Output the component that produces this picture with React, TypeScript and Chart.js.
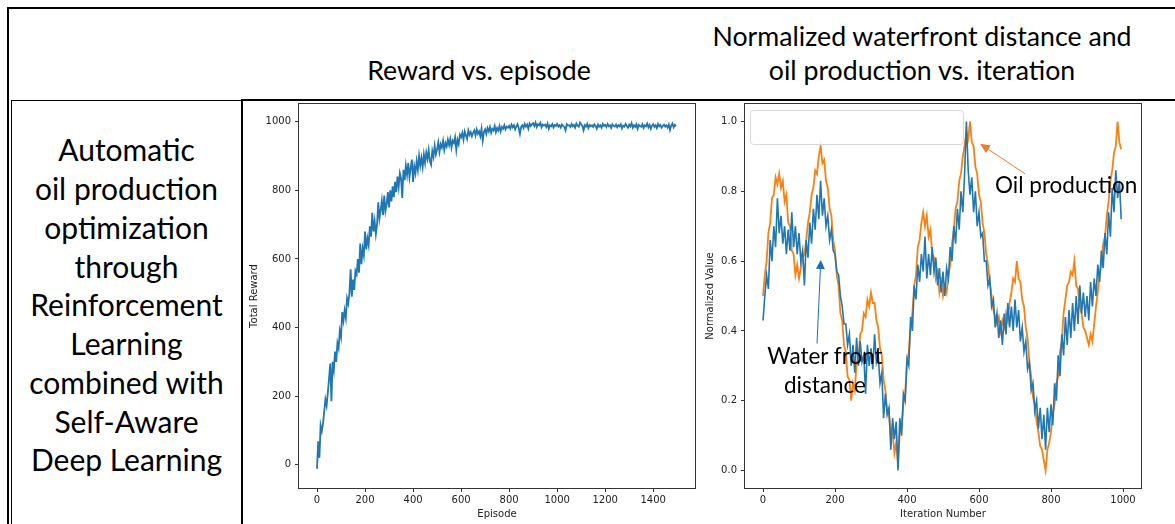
import React, { useEffect, useRef } from "react";
import { Chart, registerables } from "chart.js";

Chart.register(...registerables);

// ---------- data ----------
const REWARD_EPISODE_STEP = 5;
const REWARDS = [
  -12, 68, 20, 115, 98, 120, 155, 190, 172, 210,
  250, 295, 185, 300, 275, 330, 300, 355, 340, 390,
  372, 445, 420, 450, 428, 485, 470, 500, 570, 490,
  540, 510, 565, 555, 600, 560, 645, 585, 630, 610,
  680, 628, 660, 640, 695, 665, 735, 680, 710, 672,
  700, 765, 718, 742, 770, 728, 785, 740, 760, 795,
  750, 800, 768, 812, 780, 825, 795, 840, 810, 850,
  835, 778, 860, 830, 872, 845, 880, 838, 865, 890,
  825, 870, 850, 885, 860, 900, 872, 895, 868, 905,
  880, 910, 892, 918, 885, 875, 915, 898, 930, 905,
  920, 940, 912, 935, 925, 945, 918, 938, 928, 948,
  932, 950, 925, 945, 938, 955, 918, 948, 935, 962,
  955, 968, 948, 972, 960, 950, 975, 962, 970, 958,
  968, 975, 960, 978, 965, 972, 958, 980, 945, 970,
  978, 965, 982, 972, 985, 968, 980, 975, 988, 970,
  982, 975, 988, 972, 985, 980, 990, 978, 986, 983,
  988, 980, 992, 984, 990, 978, 986, 993, 982, 965,
  985, 990, 982, 994, 986, 992, 980, 995, 988, 993,
  996, 988, 998, 985, 993, 990, 997, 984, 992, 989,
  992, 985, 995, 980, 990, 987, 993, 983, 991, 988,
  994, 986, 990, 983, 992, 988, 985, 975, 993, 989,
  990, 985, 994, 987, 991, 983, 995, 989, 986, 998,
  993, 988, 975, 990, 986, 994, 982, 991, 987, 990,
  985, 993, 988, 980, 992, 986, 990, 983, 994, 988,
  991, 985, 994, 987, 990, 982, 993, 988, 986, 992,
  984, 990, 987, 993, 981, 989, 986, 994, 988, 983,
  992, 987, 996, 983, 990, 985, 993, 980, 991, 988,
  986, 993, 982, 990, 987, 995, 984, 991, 980, 989,
  993, 985, 990, 982, 994, 987, 991, 983, 988, 992,
  986, 990, 983, 992, 976, 989, 995, 984, 991, 987,
];

const ITERATION_STEP = 5;
const WATERFRONT = [
  0.43, 0.50, 0.56, 0.52, 0.66, 0.60, 0.70, 0.64, 0.78, 0.68,
  0.73, 0.65, 0.70, 0.62, 0.69, 0.63, 0.74, 0.64, 0.70, 0.62,
  0.68, 0.60, 0.63, 0.53, 0.66, 0.61, 0.71, 0.65, 0.75, 0.69,
  0.79, 0.72, 0.83, 0.73, 0.78, 0.70, 0.73, 0.66, 0.69, 0.63,
  0.62, 0.57, 0.56, 0.50, 0.47, 0.42, 0.42, 0.36, 0.39, 0.30,
  0.36, 0.28, 0.38, 0.30, 0.37, 0.31, 0.33, 0.22, 0.36, 0.30,
  0.35, 0.29, 0.39, 0.31, 0.33, 0.25, 0.28, 0.15, 0.22, 0.16,
  0.18, 0.06, 0.15, 0.09, 0.14, 0.00, 0.15, 0.10, 0.22, 0.20,
  0.32, 0.30, 0.44, 0.40, 0.53, 0.49, 0.59, 0.54, 0.62, 0.57,
  0.67, 0.55, 0.62, 0.56, 0.64, 0.57, 0.61, 0.53, 0.58, 0.51,
  0.57, 0.50, 0.58, 0.55, 0.64, 0.60, 0.70, 0.65, 0.75, 0.69,
  0.80, 0.74, 0.85, 1.00, 0.86, 0.79, 0.84, 0.74, 0.80, 0.70,
  0.74, 0.67, 0.68, 0.60, 0.60, 0.53, 0.55, 0.47, 0.49, 0.41,
  0.45, 0.38, 0.43, 0.36, 0.45, 0.39, 0.48, 0.41, 0.47, 0.40,
  0.49, 0.41, 0.46, 0.37, 0.41, 0.34, 0.37, 0.29, 0.31, 0.23,
  0.25, 0.17, 0.20, 0.12, 0.18, 0.09, 0.16, 0.06, 0.18, 0.11,
  0.19, 0.13, 0.25, 0.20, 0.33, 0.27, 0.39, 0.33, 0.44, 0.36,
  0.46, 0.38, 0.48, 0.40, 0.50, 0.42, 0.53, 0.45, 0.51, 0.44,
  0.50, 0.43, 0.54, 0.47, 0.55, 0.50, 0.59, 0.54, 0.63, 0.58,
  0.68, 0.62, 0.74, 0.67, 0.81, 0.74, 0.86, 0.78, 0.83, 0.72,
];
const OIL = [
  0.50, 0.56, 0.60, 0.68, 0.71, 0.78, 0.79, 0.84, 0.82, 0.85,
  0.81, 0.83, 0.77, 0.79, 0.71, 0.70, 0.63, 0.62, 0.56, 0.59,
  0.55, 0.58, 0.61, 0.62, 0.66, 0.71, 0.74, 0.79, 0.81, 0.86,
  0.85, 0.90, 0.93, 0.88, 0.89, 0.83, 0.81, 0.75, 0.73, 0.66,
  0.63, 0.56, 0.53, 0.45, 0.43, 0.36, 0.34, 0.27, 0.26, 0.20,
  0.25, 0.23, 0.31, 0.32, 0.39, 0.40, 0.45, 0.44, 0.49, 0.47,
  0.51, 0.48, 0.48, 0.43, 0.41, 0.35, 0.33, 0.26, 0.23, 0.17,
  0.16, 0.10, 0.11, 0.05, 0.08, 0.02, 0.11, 0.12, 0.19, 0.22,
  0.31, 0.34, 0.41, 0.45, 0.53, 0.56, 0.64, 0.66, 0.71, 0.74,
  0.70, 0.73, 0.67, 0.69, 0.62, 0.61, 0.55, 0.57, 0.51, 0.54,
  0.50, 0.53, 0.51, 0.56, 0.59, 0.65, 0.69, 0.75, 0.77, 0.83,
  0.85, 0.90, 0.93, 0.97, 0.95, 1.00, 0.94, 0.93, 0.87, 0.85,
  0.79, 0.77, 0.71, 0.68, 0.62, 0.59, 0.54, 0.50, 0.46, 0.44,
  0.42, 0.44, 0.40, 0.43, 0.41, 0.45, 0.43, 0.48, 0.51, 0.55,
  0.54, 0.60, 0.55, 0.54, 0.49, 0.47, 0.41, 0.38, 0.31, 0.27,
  0.21, 0.19, 0.14, 0.11, 0.07, 0.06, 0.03, 0.00, 0.06, 0.08,
  0.11, 0.16, 0.19, 0.25, 0.27, 0.34, 0.37, 0.45, 0.49, 0.53,
  0.54, 0.57, 0.56, 0.60, 0.53, 0.52, 0.47, 0.45, 0.41, 0.40,
  0.38, 0.36, 0.39, 0.37, 0.42, 0.47, 0.51, 0.56, 0.59, 0.65,
  0.67, 0.73, 0.77, 0.83, 0.86, 0.91, 0.93, 1.00, 0.94, 0.92,
];

const REWARD_X_TICKS = [0, 200, 400, 600, 800, 1000, 1200, 1400];
const REWARD_Y_TICKS = [0, 200, 400, 600, 800, 1000];
const ITER_X_TICKS = [0, 200, 400, 600, 800, 1000];
const NORM_Y_TICKS = [0, 0.2, 0.4, 0.6, 0.8, 1.0];

const LEFT_LINES = [
  "Automatic",
  "oil production",
  "optimization",
  "through",
  "Reinforcement",
  "Learning",
  "combined with",
  "Self-Aware",
  "Deep Learning",
];

// annotation arrows in data coordinates: [tailX, tailY, tipX, tipY]
const OIL_ARROW = [728, 0.85, 603, 0.936];
const WATER_ARROW = [150, 0.364, 160.6, 0.603];

const BLUE = "#1f77b4";
const ORANGE = "#ff7f0e";
const AXIS_COLOR = "#333";
const TEXT_COLOR = "#222";

Chart.defaults.font.family = "'DejaVu Sans', sans-serif";
Chart.defaults.font.size = 10;
Chart.defaults.color = TEXT_COLOR;

const framePlugin = {
  id: "frame",
  afterDraw(chart: any) {
    const { ctx, chartArea: a } = chart;
    ctx.save();
    ctx.strokeStyle = AXIS_COLOR;
    ctx.lineWidth = 1;
    ctx.strokeRect(
      Math.round(a.left) - 0.5,
      Math.round(a.top) - 0.5,
      Math.round(a.right - a.left) + 1,
      Math.round(a.bottom - a.top) + 1
    );
    ctx.restore();
  },
};

function drawArrow(ctx: CanvasRenderingContext2D, x1: number, y1: number, x2: number, y2: number, color: string, headLen: number, headW: number) {
  const ang = Math.atan2(y2 - y1, x2 - x1);
  const bx = x2 - headLen * Math.cos(ang);
  const by = y2 - headLen * Math.sin(ang);
  ctx.strokeStyle = color;
  ctx.lineWidth = 1;
  ctx.beginPath();
  ctx.moveTo(x1, y1);
  ctx.lineTo(bx, by);
  ctx.stroke();
  ctx.fillStyle = color;
  ctx.beginPath();
  ctx.moveTo(x2, y2);
  ctx.lineTo(bx + (headW / 2) * Math.sin(ang), by - (headW / 2) * Math.cos(ang));
  ctx.lineTo(bx - (headW / 2) * Math.sin(ang), by + (headW / 2) * Math.cos(ang));
  ctx.closePath();
  ctx.fill();
}

const annotationPlugin = {
  id: "annot",
  afterDatasetsDraw(chart: any) {
    const { ctx, chartArea: a, scales } = chart;
    const xs = scales.x;
    const ys = scales.y;
    ctx.save();
    // empty legend frame
    const lx = a.left + 5.5;
    const ly = a.top + 6.5;
    const lw = 213;
    const lh = 34;
    const r = 3;
    ctx.beginPath();
    ctx.moveTo(lx + r, ly);
    ctx.lineTo(lx + lw - r, ly);
    ctx.arcTo(lx + lw, ly, lx + lw, ly + r, r);
    ctx.lineTo(lx + lw, ly + lh - r);
    ctx.arcTo(lx + lw, ly + lh, lx + lw - r, ly + lh, r);
    ctx.lineTo(lx + r, ly + lh);
    ctx.arcTo(lx, ly + lh, lx, ly + lh - r, r);
    ctx.lineTo(lx, ly + r);
    ctx.arcTo(lx, ly, lx + r, ly, r);
    ctx.closePath();
    ctx.fillStyle = "rgba(255,255,255,0.8)";
    ctx.fill();
    ctx.strokeStyle = "#d8d8d8";
    ctx.lineWidth = 1;
    ctx.stroke();
    // arrows
    drawArrow(
      ctx,
      xs.getPixelForValue(OIL_ARROW[0]), ys.getPixelForValue(OIL_ARROW[1]),
      xs.getPixelForValue(OIL_ARROW[2]), ys.getPixelForValue(OIL_ARROW[3]),
      "#ed7d31", 10, 9
    );
    drawArrow(
      ctx,
      xs.getPixelForValue(WATER_ARROW[0]), ys.getPixelForValue(WATER_ARROW[1]),
      xs.getPixelForValue(WATER_ARROW[2]), ys.getPixelForValue(WATER_ARROW[3]),
      "#1a6fbd", 9, 9
    );
    ctx.restore();
  },
};

function axisCommon(ticksArr: number[], fmt: (v: number) => string, pad: number) {
  return {
    type: "linear" as const,
    afterBuildTicks: (s: any) => {
      s.ticks = ticksArr.map((v) => ({ value: v }));
    },
    grid: {
      display: true,
      drawOnChartArea: false,
      drawTicks: true,
      tickLength: 4,
      color: AXIS_COLOR,
      lineWidth: 1,
    },
    border: { display: false },
    ticks: {
      autoSkip: false,
      maxRotation: 0,
      padding: pad,
      color: TEXT_COLOR,
      font: { size: 10 },
      callback: (v: any) => fmt(Number(v)),
    },
  };
}

function fixSize(dim: "width" | "height", size: number) {
  return (s: any) => {
    s[dim] = size;
    s.paddingTop = 0;
    s.paddingBottom = 0;
    s.paddingLeft = 0;
    s.paddingRight = 0;
  };
}

function RewardChart() {
  const ref = useRef<HTMLCanvasElement>(null);
  useEffect(() => {
    const data = REWARDS.map((v, i) => ({ x: i * REWARD_EPISODE_STEP, y: v }));
    const chart = new Chart(ref.current!, {
      type: "line",
      data: {
        datasets: [
          {
            data,
            borderColor: BLUE,
            borderWidth: 1.8,
            pointRadius: 0,
            tension: 0,
            fill: false,
          },
        ],
      },
      options: {
        animation: false,
        responsive: false,
        devicePixelRatio: 1,
        layout: { padding: { left: 0, right: 15, top: 2, bottom: 0 } },
        plugins: { legend: { display: false }, tooltip: { enabled: false } },
        scales: {
          x: {
            ...axisCommon(REWARD_X_TICKS, (v) => String(v), 2),
            min: -75,
            max: 1574,
            afterFit: fixSize("height", 36),
            title: { display: true, text: "Episode", color: TEXT_COLOR, font: { size: 10 }, padding: { top: 0, bottom: 4 } },
          },
          y: {
            ...axisCommon(REWARD_Y_TICKS, (v) => String(v), 4),
            min: -68,
            max: 1052,
            afterFit: fixSize("width", 55),
            title: { display: true, text: "Total Reward", color: TEXT_COLOR, font: { size: 10 }, padding: { top: 4, bottom: 0 } },
          },
        },
      },
      plugins: [framePlugin],
    } as any);
    return () => chart.destroy();
  }, []);
  return <canvas ref={ref} width={466} height={422} style={{ width: 466, height: 422, display: "block" }} />;
}

function NormChart() {
  const ref = useRef<HTMLCanvasElement>(null);
  useEffect(() => {
    const water = WATERFRONT.map((v, i) => ({ x: i * ITERATION_STEP, y: v }));
    const oil = OIL.map((v, i) => ({ x: i * ITERATION_STEP, y: v }));
    const chart = new Chart(ref.current!, {
      type: "line",
      data: {
        datasets: [
          { label: "Water front distance", data: water, borderColor: BLUE, borderWidth: 1.6, pointRadius: 0, tension: 0, fill: false },
          { label: "Oil production", data: oil, borderColor: ORANGE, borderWidth: 1.8, pointRadius: 0, tension: 0, fill: false },
        ],
      },
      options: {
        animation: false,
        responsive: false,
        devicePixelRatio: 1,
        layout: { padding: { left: 0, right: 34, top: 2, bottom: 0 } },
        plugins: { legend: { display: false }, tooltip: { enabled: false } },
        scales: {
          x: {
            ...axisCommon(ITER_X_TICKS, (v) => String(v), 2),
            min: -50,
            max: 1050,
            afterFit: fixSize("height", 36),
            title: { display: true, text: "Iteration Number", color: TEXT_COLOR, font: { size: 10 }, padding: { top: 0, bottom: 4 } },
          },
          y: {
            ...axisCommon(NORM_Y_TICKS, (v) => v.toFixed(1), 4),
            min: -0.05,
            max: 1.05,
            afterFit: fixSize("width", 43),
            title: { display: true, text: "Normalized Value", color: TEXT_COLOR, font: { size: 10 }, padding: { top: 2, bottom: 0 } },
          },
        },
      },
      plugins: [framePlugin, annotationPlugin],
    } as any);
    return () => chart.destroy();
  }, []);
  return <canvas ref={ref} width={473} height={422} style={{ width: 473, height: 422, display: "block" }} />;
}

const SLIDE_FONT = "Lato, 'Open Sans', sans-serif";

function Line({ text, baseline, size, left, width, align = "center" }: any) {
  // Lato: ascent ≈ 0.987em with line-height 1.2
  return (
    <div
      style={{
        position: "absolute",
        left,
        width,
        top: baseline - 0.987 * size,
        fontSize: size,
        lineHeight: 1.2,
        textAlign: align,
        whiteSpace: "nowrap",
        fontFamily: SLIDE_FONT,
        color: "#000",
      }}
    >
      {text}
    </div>
  );
}

function Box({ l, t, w, h }: any) {
  return <div style={{ position: "absolute", left: l, top: t, width: w, height: h, background: "#000" }} />;
}

export default function App() {
  return (
    <div
      style={{
        position: "fixed",
        left: 0,
        top: 0,
        width: 1175,
        height: 524,
        background: "#fff",
        overflow: "hidden",
      }}
    >
      {/* table borders */}
      <Box l={7} t={7} w={1168} h={2} />
      <Box l={7} t={7} w={2} h={517} />
      <Box l={11} t={100} w={1} h={424} />
      <Box l={11} t={100} w={231} h={1} />
      <Box l={242} t={99} w={933} h={2} />
      <Box l={241} t={99} w={2} h={425} />

      {/* headers */}
      <Line text="Reward vs. episode" baseline={80} size={26.7} left={244} width={470} />
      <Line text="Normalized waterfront distance and" baseline={46.5} size={26.7} left={700} width={444} />
      <Line text="oil production vs. iteration" baseline={80} size={26.7} left={700} width={444} />

      {/* left cell text */}
      {LEFT_LINES.map((t, i) => (
        <Line key={i} text={t} baseline={161 + i * 38.75} size={30} left={11} width={231} />
      ))}

      {/* charts */}
      <div style={{ position: "absolute", left: 244, top: 102 }}>
        <RewardChart />
      </div>
      <div style={{ position: "absolute", left: 702, top: 102 }}>
        <NormChart />
      </div>

      {/* chart annotations */}
      <Line text="Oil production" baseline={193.3} size={22.5} left={995} width={180} align="left" />
      <Line text="Water front" baseline={364.3} size={22.5} left={725} width={200} />
      <Line text="distance" baseline={393.3} size={22.5} left={725} width={200} />
    </div>
  );
}
